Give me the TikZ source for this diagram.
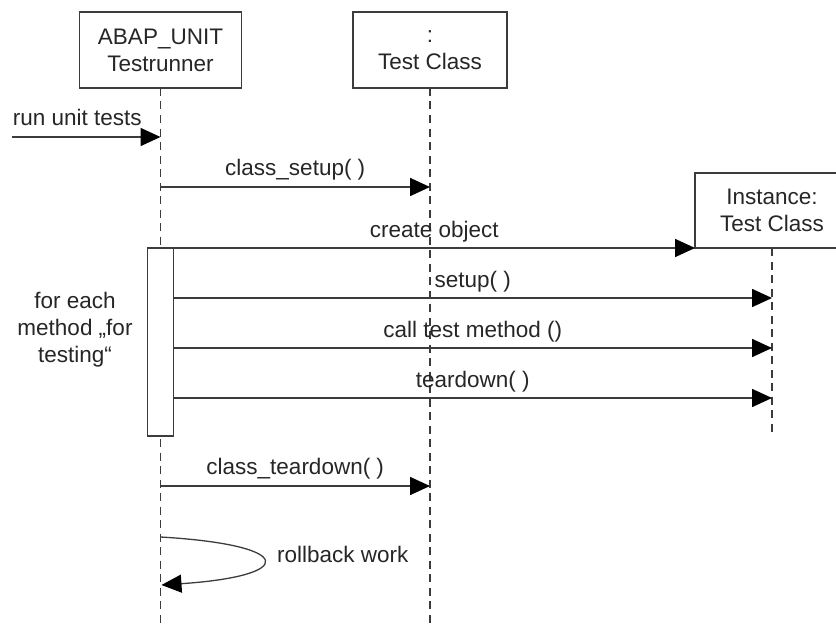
\documentclass[tikz,border=0pt]{standalone}
\usepackage{fontspec}
\setmainfont{Liberation Sans}
\usetikzlibrary{arrows.meta}
\definecolor{linec}{HTML}{3C3C3C}
\definecolor{textc}{HTML}{262626}
\begin{document}
\begin{tikzpicture}[x=1pt,y=-1pt,
  every node/.style={font=\fontsize{22.5}{27}\selectfont, text=textc},
  objbox/.style={draw=linec, line width=1.6pt, fill=white, align=center, minimum height=76pt, inner sep=0pt, outer sep=0pt},
  lifeline/.style={draw=linec, line width=1.6pt, dash pattern=on 8pt off 5.5pt},
  msg/.style={draw=linec, line width=1.6pt, -{Triangle[length=20pt,width=18pt,fill=black,color=black]}},
  lbl/.style={text height=0.75em, text depth=0.2em, inner sep=0pt},
  actbox/.style={draw=linec, line width=1.6pt, fill=white, minimum width=26pt, minimum height=188pt, inner sep=0pt, outer sep=0pt}
]
\useasboundingbox (0,0) rectangle (836,626);
\begin{scope}
\clip (0,0) rectangle (836,626);
% objects
\node[objbox, minimum width=162pt] (abap) at (160.5,50) {ABAP\_UNIT\\Testrunner};
\node[objbox, minimum width=154pt] (tc) at (430,50) {:\\Test Class};
\node[objbox, minimum width=154pt, minimum height=75pt] (inst) at (772,210.5) {Instance:\\Test Class};
% lifeline ends
\coordinate (abapend) at (160.5,626);
\coordinate (tcend) at (430,626);
\coordinate (instend) at (772,433);
\draw[lifeline] (abap.south) -- (abapend);
\draw[lifeline] (tc.south) -- (tcend);
\draw[lifeline] (inst.south) -- (instend);
% activation
\node[actbox] (act) at (160.5,342) {};
% messages
\coordinate (start) at (12,137);
\draw[msg] (start) -- (start -| abap.south)
  node[lbl, at start, anchor=south west, yshift=8.3pt] {run unit tests};
\draw[msg] (abap.south |- 0,187) -- (tc.south |- 0,187)
  node[lbl, midway, above=8.3pt] {class\_setup( )};
\draw[msg] (act.north east) -- (act.north east -| inst.south west)
  node[lbl, midway, above=7.3pt] {create object};
\draw[msg] (act.east |- 0,298) -- (inst.south |- 0,298)
  node[lbl, midway, above=7.3pt] {setup( )};
\draw[msg] (act.east |- 0,348) -- (inst.south |- 0,348)
  node[lbl, midway, above=7.3pt] {call test method ()};
\draw[msg] (act.east |- 0,398) -- (inst.south |- 0,398)
  node[lbl, midway, above=7.3pt] {teardown( )};
\draw[msg] (abap.south |- 0,486) -- (tc.south |- 0,486)
  node[lbl, midway, above=8.3pt] {class\_teardown( )};
% self call
\coordinate (loopa) at (160.5,537);
\coordinate (loopb) at (161.5,585);
\draw[msg, line width=1.3pt] (loopa) .. controls (297,545) and (297,576) .. (loopb);
\node[lbl, anchor=west] (rb) at (277,560) {rollback work};
% loop note
\node[align=center, inner sep=0pt] (note) at (75,330) {for each\\method „for\\testing“};
\end{scope}
\end{tikzpicture}
\end{document}
